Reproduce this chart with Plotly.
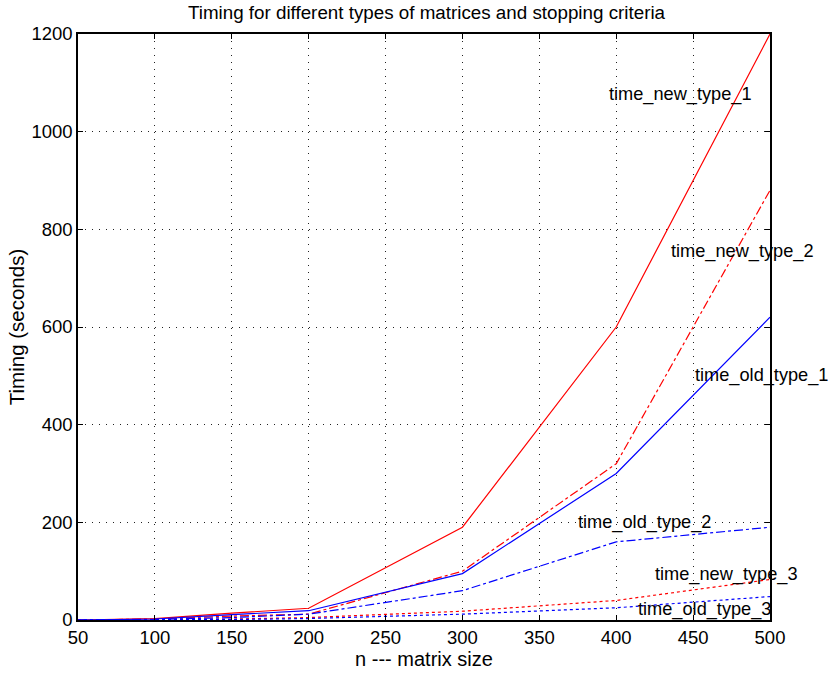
import plotly.graph_objects as go

# Matrix sizes at which timings were measured
n_sizes = [50, 100, 150, 200, 300, 400, 500]

# Timings in seconds for each matrix type and stopping criterion
time_new_type_1 = [0, 3, 14, 24, 190, 600, 1200]
time_new_type_2 = [0, 2, 8, 12, 100, 320, 880]
time_new_type_3 = [0, 0.5, 2, 5, 18, 40, 83]
time_old_type_1 = [0, 2, 11, 19, 95, 300, 620]
time_old_type_2 = [0, 1, 5, 12, 60, 160, 190]
time_old_type_3 = [0, 0.3, 1, 3, 12, 25, 48]

# Label text and anchor (data coordinates, left-aligned) for each curve
label_names = ["time_new_type_1", "time_new_type_2", "time_old_type_1",
               "time_old_type_2", "time_new_type_3", "time_old_type_3"]
label_x = [394, 434, 450, 374, 424, 413]
label_y = [1076, 754, 501, 200, 94, 22]

series = [
    (time_new_type_1, "#ff0000", "solid"),
    (time_new_type_2, "#ff0000", "dashdot"),
    (time_new_type_3, "#ff0000", "dot"),
    (time_old_type_1, "#0000ff", "solid"),
    (time_old_type_2, "#0000ff", "dashdot"),
    (time_old_type_3, "#0000ff", "dot"),
]

FONT = "Liberation Sans, Arial, Helvetica, sans-serif"

fig = go.Figure()
for values, color, dash in series:
    fig.add_trace(go.Scatter(
        x=n_sizes, y=values, mode="lines",
        line=dict(color=color, width=1.2, dash=dash),
        showlegend=False, hoverinfo="skip", cliponaxis=False,
    ))

for name, lx, ly in zip(label_names, label_x, label_y):
    fig.add_annotation(
        x=lx, y=ly, text=name, showarrow=False,
        xanchor="left", yanchor="middle",
        font=dict(family=FONT, size=18.2, color="black"),
    )

axis_common = dict(
    showline=True, linecolor="black", linewidth=1.5, mirror="ticks",
    ticks="inside", ticklen=5, tickcolor="black", tickwidth=1,
    showgrid=True, gridcolor="#222222", gridwidth=1, griddash="1px,6px",
    zeroline=False,
    tickfont=dict(family=FONT, size=18.5, color="black"),
)

fig.update_xaxes(
    range=[50, 500], tickmode="array",
    tickvals=[50, 100, 150, 200, 250, 300, 350, 400, 450, 500],
    title=dict(text="n --- matrix size", standoff=3,
               font=dict(family=FONT, size=20, color="black")),
    **axis_common,
)
fig.update_yaxes(
    range=[0, 1200], tickmode="array",
    tickvals=[0, 200, 400, 600, 800, 1000, 1200],
    title=dict(text="Timing (seconds)", standoff=1,
               font=dict(family=FONT, size=20.5, color="black")),
    **axis_common,
)

fig.update_layout(
    width=833, height=677,
    margin=dict(l=78, r=63, t=34, b=54),
    paper_bgcolor="white", plot_bgcolor="white",
    title=dict(text="Timing for different types of matrices and stopping criteria",
               x=0.512, xanchor="center", y=0.982, yanchor="middle",
               font=dict(family=FONT, size=18.8, color="black")),
)

fig.write_html("out.html")
